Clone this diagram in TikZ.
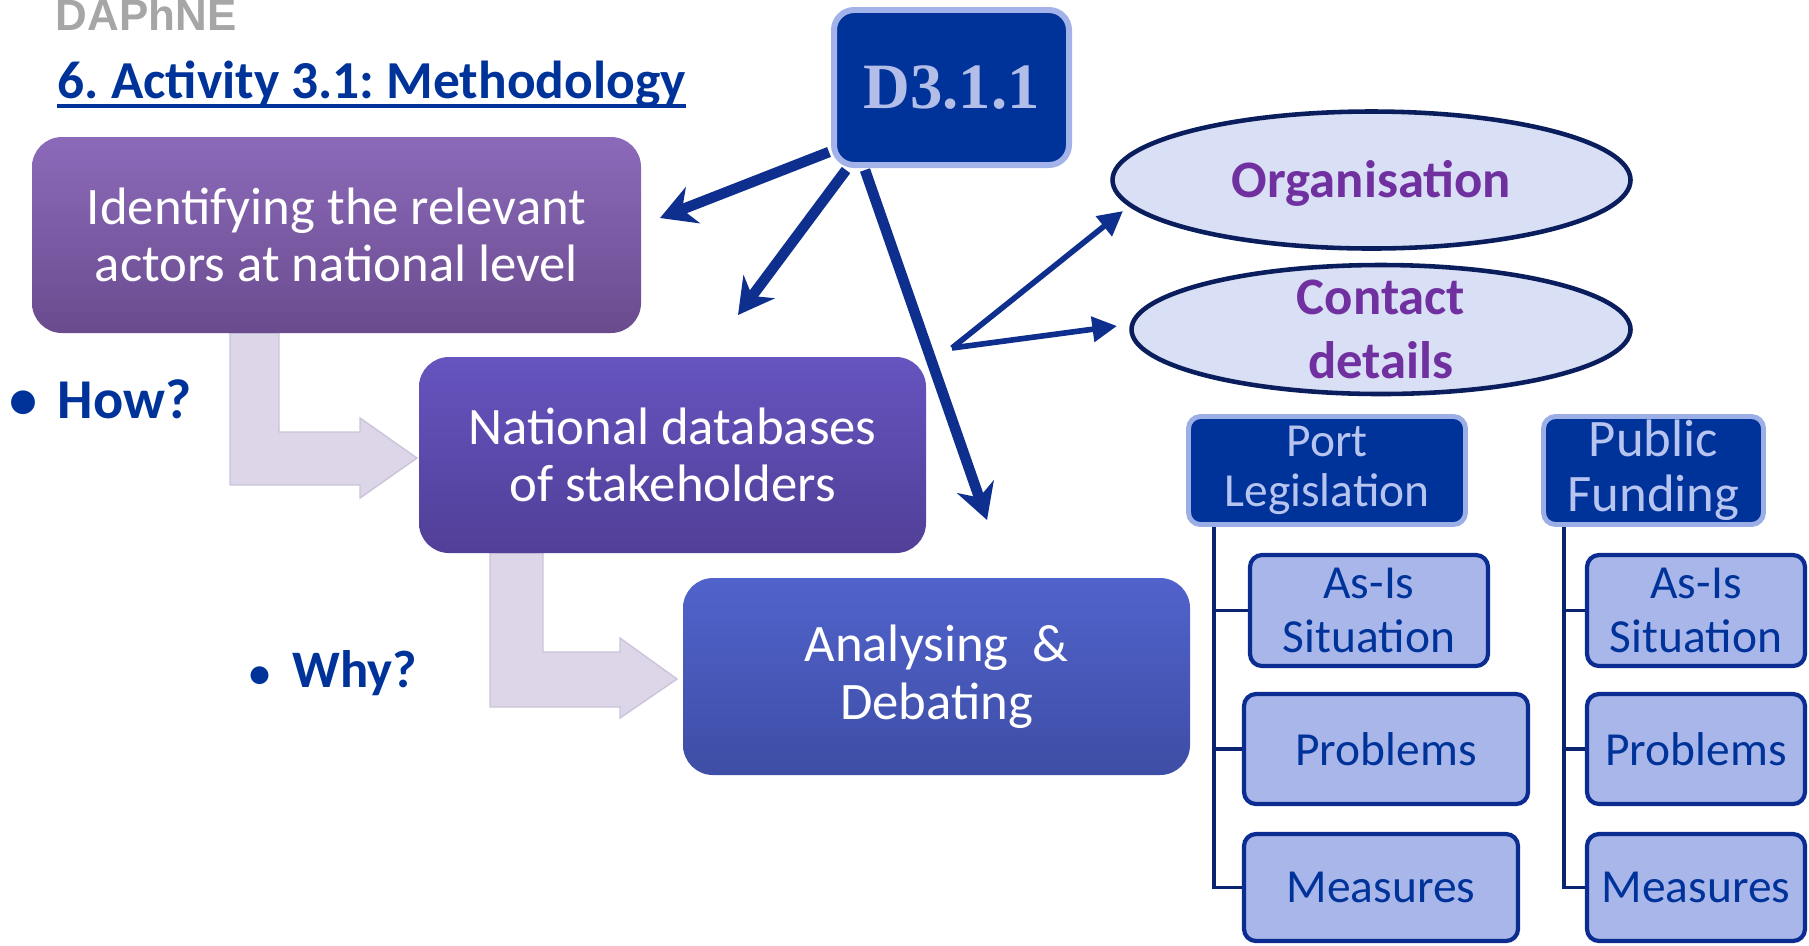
\documentclass[tikz,border=0pt]{standalone}
\usepackage{fontspec}
\setmainfont{Carlito}
\newfontfamily\serifbold{Liberation Serif}
\newfontfamily\arialfont{Liberation Sans}
\usetikzlibrary{shapes.geometric,arrows.meta}
\frenchspacing

\definecolor{dblue}{HTML}{003399}
\definecolor{navy}{HTML}{0E2F8E}
\definecolor{lav}{HTML}{DCD6E8}
\definecolor{lavd}{HTML}{CBC4DA}
\definecolor{b1top}{HTML}{8C6ABA}
\definecolor{b1bot}{HTML}{6A4B8E}
\definecolor{b2top}{HTML}{6654BF}
\definecolor{b2bot}{HTML}{513F98}
\definecolor{b3top}{HTML}{5163CC}
\definecolor{b3bot}{HTML}{3E4DA5}
\definecolor{ovalline}{HTML}{0A1E5E}
\definecolor{ovalfill}{HTML}{D9DFF4}
\definecolor{purp}{HTML}{7030A0}
\definecolor{dborder}{HTML}{A3B3EA}
\definecolor{dtext}{HTML}{B3BEE8}
\definecolor{hborder}{HTML}{9CAEE6}
\definecolor{htext}{HTML}{B8C4F0}
\definecolor{lborder}{HTML}{0B2C90}
\definecolor{lfill}{HTML}{A8B6EA}
\definecolor{tline}{HTML}{0B2470}
\definecolor{logogray}{HTML}{A6A6A6}

\begin{document}
\begin{tikzpicture}[x=0.1mm,y=-0.1mm,
  stepbox/.style={rounded corners=3mm,text=white,align=center,inner sep=0,
    font=\fontsize{15}{16.4}\selectfont},
  bentarrow/.style={fill=lav,draw=lavd,line width=0.4pt},
  darrow/.style={draw=navy,line width=3pt,-{Stealth[length=10pt,width=11pt]}},
  earrow/.style={draw=navy,line width=1.6pt,line join=miter,-{Triangle[length=7pt,width=7pt]}},
  ovalnode/.style={ellipse,draw=ovalline,line width=1.3pt,fill=ovalfill,inner sep=0},
  ovaltext/.style={text=purp,align=center,inner sep=0,font=\bfseries\fontsize{15}{18}\selectfont},
  hdrbox/.style={draw=hborder,line width=1.4pt,fill=dblue,rounded corners=1.2mm,
    text=htext,align=center,inner sep=0,minimum height=10.8mm},
  leafbox/.style={draw=lborder,line width=1.2pt,fill=lfill,rounded corners=1.2mm,
    text=dblue,align=center,inner sep=0,font=\fontsize{13.5}{15.4}\selectfont},
  treeline/.style={draw=tline,line width=1.1pt}]
 \useasboundingbox (0,0) rectangle (1809,945); %範囲

 \node[anchor=base west,inner sep=0,text=logogray,font=\arialfont\bfseries\fontsize{12.5}{12.5}\selectfont]
   (daphne) at (55,30) {DAPhNE}; %ロゴ
 \node[anchor=base west,inner sep=0,text=dblue,font=\bfseries\fontsize{15.2}{16}\selectfont]
   (title) at (57,98) {6. Activity 3.1: Methodology}; %タイトル
 \draw[dblue,line width=0.9pt] ([yshift=-0.8mm]title.base west) -- ([yshift=-0.8mm]title.base east); %下線

 \draw[bentarrow] (230,333)--(279,333)--(279,432)--(360,432)--(360,418)--(417,458)
   --(360,498)--(360,485)--(230,485)--cycle; %折れ矢印1
 \draw[bentarrow] (490,553)--(543,553)--(543,652)--(620,652)--(620,638)--(677,679)
   --(620,718)--(620,707)--(490,707)--cycle; %折れ矢印2

 \node[stepbox,top color=b1top,bottom color=b1bot,minimum width=60.9mm,minimum height=19.6mm]
   (ident) at (336.5,235) {Identifying the relevant\\actors at national level}; %手順1
 \node[stepbox,top color=b2top,bottom color=b2bot,minimum width=50.7mm,minimum height=19.6mm]
   (natdb) at (672.5,455) {National databases\\of stakeholders}; %手順2
 \node[stepbox,top color=b3top,bottom color=b3bot,minimum width=50.7mm,minimum height=19.7mm]
   (analyse) at (936.5,676.5) {Analysing\ \ \&\\Debating}; %手順3

 \node[anchor=base west,inner sep=0,text=dblue,font=\bfseries\fontsize{16}{16}\selectfont]
   (how) at (9,418) {•\hspace{2mm}How?};
 \node[anchor=base west,inner sep=0,text=dblue,font=\bfseries\fontsize{15}{15}\selectfont]
   (why) at (249,687) {{\fontsize{12}{12}\selectfont•}\hspace{2.2mm}Why?};

 \node[draw=dborder,line width=1.7pt,fill=dblue,rounded corners=2mm,minimum width=23.5mm,
   minimum height=15.5mm,text=dtext,font=\serifbold\bfseries\fontsize{18.4}{20}\selectfont]
   (d311) at (951.5,87.5) {D3.1.1}; %成果物

 \coordinate (t1) at (829,152); \coordinate (h1) at (660,218);
 \coordinate (t2) at (846,170); \coordinate (h2) at (738,315);
 \coordinate (t3) at (865,170); \coordinate (h3) at (987,520);
 \draw[darrow] (t1)--(h1);
 \draw[darrow] (t2)--(h2);
 \draw[darrow] (t3)--(h3);

 \node[ovalnode,minimum width=51.8mm,minimum height=13.7mm] (org) at (1371.5,180) {};
 \node[ovaltext] (orgtxt) at (1371.5,183) {Organisation};
 \node[ovalnode,minimum width=49.9mm,minimum height=12.9mm] (contact) at (1381,329.5) {};
 \node[ovaltext] (contxt) at (contact) {Contact\\details};

 \coordinate (fork) at (952,348);
 \coordinate (orgtip) at (1123,211);
 \coordinate (contip) at (1117,326);
 \draw[earrow] (fork)--(orgtip);
 \draw[earrow] (fork)--(contip);

 \node[hdrbox,minimum width=27.7mm,font=\fontsize{13.5}{14.4}\selectfont]
   (port) at (1327,470.5) {Port\\Legislation}; %左の見出し
 \node[hdrbox,minimum width=22mm,font=\fontsize{15}{15.7}\selectfont]
   (public) at (1653.5,470.5) {Public\\Funding}; %右の見出し

 \node[leafbox,minimum width=23.8mm,minimum height=11.1mm] (asisL) at (1369,610.5) {As-Is\\Situation};
 \node[leafbox,minimum width=28.4mm,minimum height=11mm] (probL) at (1386,749) {Problems};
 \node[leafbox,minimum width=27.4mm,minimum height=10.7mm] (measL) at (1381,887.5) {Measures};
 \node[leafbox,minimum width=21.8mm,minimum height=11.1mm] (asisR) at (1696,610.5) {As-Is\\Situation};
 \node[leafbox,minimum width=21.8mm,minimum height=11mm] (probR) at (1696,749) {Problems};
 \node[leafbox,minimum width=21.8mm,minimum height=10.7mm] (measR) at (1696,887.5) {Measures};

 \foreach \n in {asisL,probL,measL}
   \draw[treeline] ([xshift=2.8mm]port.south west) |- (\n); %左の木
 \foreach \n in {asisR,probR,measR}
   \draw[treeline] ([xshift=2.3mm]public.south west) |- (\n); %右の木
\end{tikzpicture}
\end{document}
